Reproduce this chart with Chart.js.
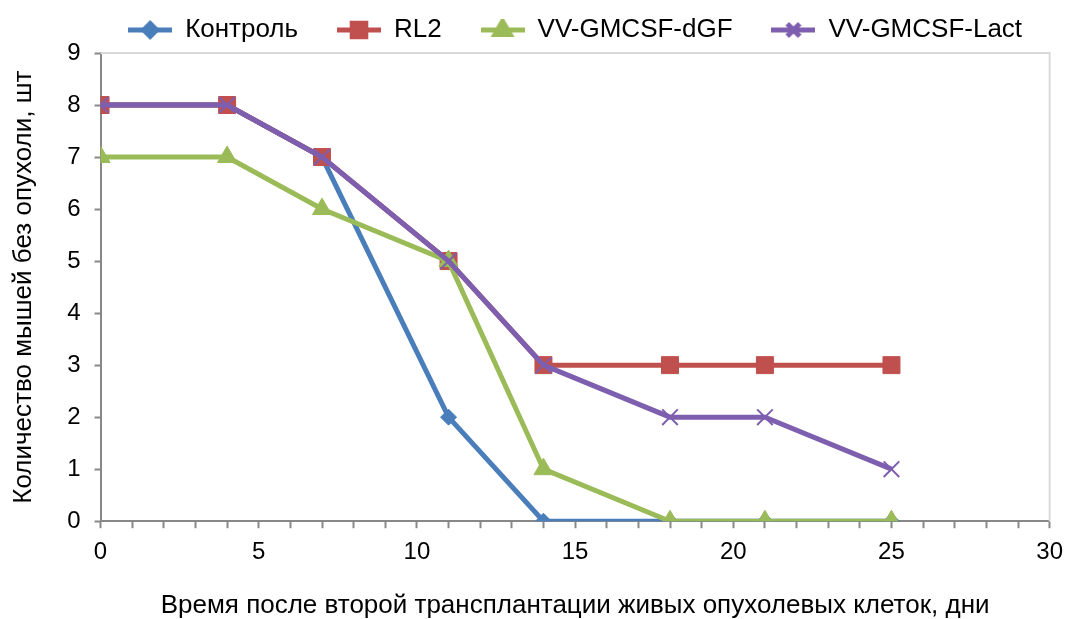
<!DOCTYPE html>
<html>
<head>
<meta charset="utf-8">
<script src="https://cdn.jsdelivr.net/npm/chart.js@4"></script>
<style>
  body { margin: 0; background: #fff; }
  #wrap { width: 1073px; height: 619px; }
</style>
</head>
<body>
<div id="wrap"><canvas id="grafica"></canvas></div>
<script>
// дни после трансплантации
const dias = [0, 4, 7, 11, 14, 18, 21, 25];
const control = [8, 8, 7, 2, 0, 0, 0, 0];
const rl2 = [8, 8, 7, 5, 3, 3, 3, 3];
const dgf = [7, 7, 6, 5, 1, 0, 0, 0];
const lact = [8, 8, 7, 5, 3, 2, 2, 1];
const nombres = ['Контроль', 'RL2', 'VV-GMCSF-dGF', 'VV-GMCSF-Lact'];
const colores = ['#4A7EBB', '#C0504D', '#9BBB59', '#7E5EAE'];
const estilos = ['rectRot', 'rect', 'triangle', 'crossRot'];
const radios = [8, 12, 11, 11];

const fuente = 'Liberation Sans, Arial, sans-serif';

function puntos(valores) {
    return valores.map((v, i) => ({ x: dias[i], y: v }));
}

// icono de leyenda: linea con marcador
function iconoLeyenda(i) {
    const c = document.createElement('canvas');
    c.width = 44;
    c.height = 22;
    const ctx = c.getContext('2d');
    ctx.strokeStyle = colores[i];
    ctx.fillStyle = colores[i];
    ctx.lineWidth = 5;
    ctx.beginPath();
    ctx.moveTo(0, 11);
    ctx.lineTo(44, 11);
    ctx.stroke();
    Chart.helpers.drawPoint(ctx, {
        pointStyle: estilos[i],
        radius: radios[i] * 0.8,
        borderWidth: estilos[i] === 'crossRot' ? 2 : 1
    }, 22, 11);
    return c;
}

const series = [control, rl2, dgf, lact];
const datasets = series.map((s, i) => ({
    label: nombres[i],
    data: puntos(s),
    borderColor: colores[i],
    backgroundColor: colores[i],
    borderWidth: 5,
    pointStyle: estilos[i],
    pointRadius: radios[i],
    pointBorderWidth: estilos[i] === 'crossRot' ? 2 : 1,
    order: series.length - i,
    tension: 0
}));

const marco = {
    id: 'marco',
    beforeDatasetsDraw(chart) {
        const a = chart.chartArea;
        const ctx = chart.ctx;
        ctx.save();
        ctx.strokeStyle = '#d9d9d9';
        ctx.lineWidth = 2;
        ctx.beginPath();
        ctx.moveTo(a.left, a.top);
        ctx.lineTo(a.right, a.top);
        ctx.lineTo(a.right, a.bottom);
        ctx.stroke();
        ctx.restore();
    }
};

const iconos = nombres.map((n, i) => iconoLeyenda(i));

new Chart(document.getElementById('grafica'), {
    type: 'line',
    data: { datasets },
    plugins: [marco],
    options: {
        responsive: true,
        maintainAspectRatio: false,
        animation: false,
        layout: { padding: { left: 8, right: 13, top: 7, bottom: 0 } },
        plugins: {
            tooltip: { enabled: false },
            legend: {
                position: 'top',
                fullSize: false,
                labels: {
                    usePointStyle: true,
                    pointStyleWidth: 44,
                    padding: 10,
                    color: '#000',
                    font: { family: fuente, size: 26 },
                    sort: (a, b) => a.datasetIndex - b.datasetIndex,
                    generateLabels(chart) {
                        const items = Chart.defaults.plugins.legend.labels.generateLabels(chart);
                        items.forEach(it => {
                            it.pointStyle = iconos[it.datasetIndex];
                            // separacion entre elementos
                            if (it.datasetIndex < nombres.length - 1) it.text += '    ';
                        });
                        return items;
                    }
                }
            }
        },
        scales: {
            x: {
                type: 'linear',
                min: 0,
                max: 30,
                grid: {
                    drawOnChartArea: false,
                    drawTicks: true,
                    tickLength: 7,
                    tickColor: '#888',
                    tickWidth: 2
                },
                border: { color: '#888', width: 2 },
                ticks: {
                    stepSize: 1,
                    autoSkip: false,
                    maxRotation: 0,
                    padding: 10,
                    color: '#000',
                    font: { family: fuente, size: 24 },
                    callback: v => (v % 5 === 0 ? v : '')
                },
                title: {
                    display: true,
                    text: 'Время после второй трансплантации живых опухолевых клеток, дни',
                    color: '#000',
                    font: { family: fuente, size: 26, lineHeight: 1 },
                    padding: { top: 16, bottom: 0 }
                }
            },
            y: {
                min: 0,
                max: 9,
                grid: {
                    drawOnChartArea: false,
                    drawTicks: true,
                    tickLength: 6,
                    tickColor: '#888',
                    tickWidth: 2
                },
                border: { color: '#888', width: 2 },
                ticks: {
                    stepSize: 1,
                    padding: 14,
                    color: '#000',
                    font: { family: fuente, size: 24 }
                },
                title: {
                    display: true,
                    text: 'Количество мышей без опухоли, шт',
                    color: '#000',
                    font: { family: fuente, size: 26 },
                    padding: { top: 0, bottom: 14 }
                }
            }
        }
    }
});
</script>
</body>
</html>
